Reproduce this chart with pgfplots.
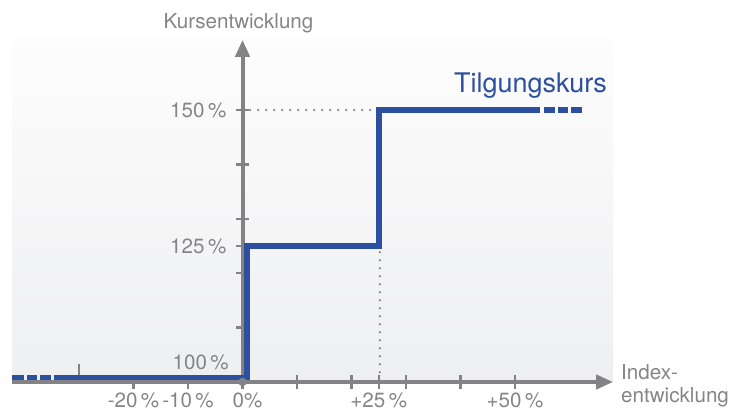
\documentclass[border=0pt]{standalone}
\usepackage{fontspec}
\setmainfont{TeX Gyre Heros}
\usepackage{pgfplots}
\pgfplotsset{compat=1.18}
\usetikzlibrary{arrows.meta}
\definecolor{axgray}{HTML}{838386}
\definecolor{txtgray}{HTML}{858588}
\definecolor{blu}{HTML}{2D4FA0}
\definecolor{bgbot}{HTML}{EEEFF1}
\definecolor{bgtop}{HTML}{FDFDFD}
\newcommand\ff{\fontsize{20.6bp}{24bp}\selectfont}
\begin{document}
\begin{tikzpicture}
\useasboundingbox (-12bp,-32bp) rectangle (736bp,382bp);
\shade[top color=bgtop, bottom color=bgbot] (0,0) rectangle (601bp,345bp);
\begin{axis}[
  at={(0,0)}, anchor=south west,
  x=5.45bp, y=5.44bp,
  xmin=-42.3, xmax=68.0, ymin=100, ymax=162.9,
  enlargelimits=false, clip=false,
  axis lines=middle,
  axis line style={axgray, line width=4bp, -{Triangle[length=17bp,width=14bp]}},
  tick align=center,
  major tick length=13bp,
  tick style={axgray, line width=2.5bp},
  xtick={-20,-10,10,20,25,30,40,50},
  xticklabels={-20\,\%,-10\,\%,,,+25\,\%,,,+50\,\%},
  extra x ticks={0}, extra x tick labels={0\%},
  extra x tick style={tick label style={xshift=5bp}},
  ytick={110,120,125,130,140,150},
  yticklabels={,,125\,\%,,,150\,\%},
  xticklabel style={anchor=base, inner sep=0pt, yshift=-19bp},
  yticklabel style={anchor=east, inner sep=0pt, xshift=-9.5bp},
  tick label style={txtgray, font=\ff},
]
% dotted guide lines
\draw[txtgray, line width=2.6bp, line cap=round, dash pattern=on 0bp off 8bp]
  (axis cs:1.4,150) -- (axis cs:23.9,150);
\draw[txtgray, line width=2.6bp, line cap=round, dash pattern=on 0bp off 8bp]
  (axis cs:25.2,101.8) -- (axis cs:25.2,124.1);
% -30 tick
\draw[axgray, line width=2.5bp] (axis cs:-30,101.1) -- (axis cs:-30,103.3);
% Tilgungskurs step line
\addplot[blu, line width=5.5bp, line join=miter] coordinates
  {(-34.6,100.8) (0.8,100.8) (0.8,125) (25,125) (25,150) (54.6,150)};
\addplot[blu, line width=5.5bp] coordinates {(-42.3,100.8) (-40.1,100.8)};
\addplot[blu, line width=5.5bp] coordinates {(-39.5,100.8) (-37.7,100.8)};
\addplot[blu, line width=5.5bp] coordinates {(-37.2,100.8) (-35.1,100.8)};
\addplot[blu, line width=5.5bp] coordinates {(55.3,150) (57.3,150)};
\addplot[blu, line width=5.5bp] coordinates {(57.9,150) (59.7,150)};
\addplot[blu, line width=5.5bp] coordinates {(60.3,150) (62.3,150)};
\fill[axgray] (axis cs:0,100) circle[radius=4.2bp];
\end{axis}
\node[anchor=base, inner sep=0pt, txtgray, font=\ff] at (226.5bp,353bp) {Kursentwicklung};
\node[anchor=base, inner sep=0pt, blu, font=\fontsize{27bp}{32bp}\selectfont] at (518.5bp,289bp) {Tilgungskurs};
\node[anchor=base east, inner sep=0pt, txtgray, font=\ff] at (217bp,13bp) {100\,\%};
\node[anchor=base west, inner sep=0pt, txtgray, font=\ff] at (609bp,3bp) {Index-};
\node[anchor=base west, inner sep=0pt, txtgray, font=\ff] at (609bp,-20bp) {entwicklung};
\end{tikzpicture}
\end{document}
